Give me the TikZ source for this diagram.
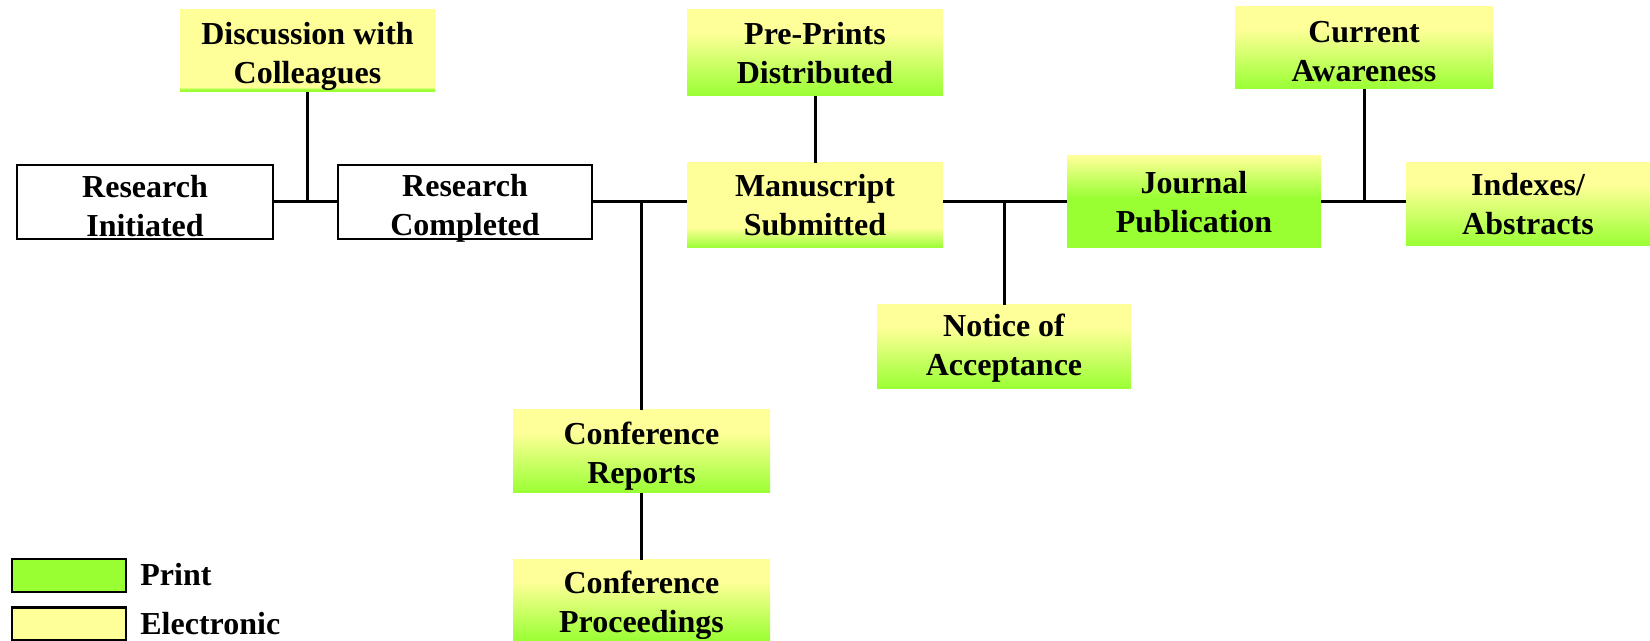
\documentclass[tikz,border=0pt]{standalone}
\usepackage{fontspec}
\setmainfont{Liberation Serif}
\definecolor{pg}{HTML}{99FF33}
\definecolor{ey}{HTML}{FFFF99}
\pgfdeclareverticalshading{shDC}{100bp}{color(0bp)=(pg); color(26.5bp)=(pg); color(28bp)=(ey); color(100bp)=(ey)}
\pgfdeclareverticalshading{shPP}{100bp}{color(0bp)=(pg); color(25bp)=(pg); color(62bp)=(ey); color(100bp)=(ey)}
\pgfdeclareverticalshading{shMS}{100bp}{color(0bp)=(pg); color(25bp)=(pg); color(37bp)=(ey); color(100bp)=(ey)}
\pgfdeclareverticalshading{shJP}{100bp}{color(0bp)=(pg); color(52bp)=(pg); color(75bp)=(ey); color(100bp)=(ey)}
\begin{document}
\begin{tikzpicture}[x=0.5pt,y=-0.5pt,
  lbl/.style={font=\fontsize{16}{19.5}\selectfont\bfseries, align=center, inner sep=0pt},
  plainbox/.style={draw=black, line width=1.3pt, fill=white, inner sep=0pt},
  gbox/.style={draw=none, shade, shading=#1, inner sep=0pt},
  conn/.style={line width=1.5pt, draw=black},
  legbox/.style={draw=black, line width=1.3pt, minimum width=57pt, minimum height=16.5pt, inner sep=0pt},
  legtext/.style={font=\fontsize{16}{19.5}\selectfont\bfseries, anchor=west, inner sep=0pt}]
\useasboundingbox (0,0) rectangle (1650,641);
% boxes
\node[plainbox, minimum width=128pt, minimum height=37pt,
  label={[lbl,yshift=-1.8pt]center:{Research\\Initiated}}] (RI) at (145,202) {};
\node[plainbox, minimum width=127pt, minimum height=37pt,
  label={[lbl,yshift=-3.2pt]center:{Research\\Completed}}] (RC) at (465,202) {};
\node[gbox=shDC, minimum width=127.5pt, minimum height=41pt,
  label={[lbl,yshift=-2.5pt]center:{Discussion with\\Colleagues}}] (DC) at (307.5,51) {};
\node[gbox=shPP, minimum width=128pt, minimum height=43pt,
  label={[lbl]center:{Pre-Prints\\Distributed}}] (PP) at (815,53) {};
\node[gbox=shMS, minimum width=128pt, minimum height=42.5pt,
  label={[lbl]center:{Manuscript\\Submitted}}] (MS) at (815,205.5) {};
\node[gbox=shJP, minimum width=127pt, minimum height=46pt,
  label={[lbl]center:{Journal\\Publication}}] (JP) at (1194,202) {};
\node[gbox=shPP, minimum width=129pt, minimum height=41pt,
  label={[lbl,yshift=-1.8pt]center:{Current\\Awareness}}] (CA) at (1364,48) {};
\node[gbox=shPP, minimum width=122pt, minimum height=41.5pt,
  label={[lbl]center:{Indexes/\\Abstracts}}] (IA) at (1528,204.5) {};
\node[gbox=shPP, minimum width=127pt, minimum height=42pt,
  label={[lbl,yshift=-0.8pt]center:{Notice of\\Acceptance}}] (NA) at (1004,347) {};
\node[gbox=shPP, minimum width=128.5pt, minimum height=41.5pt,
  label={[lbl,yshift=-2.4pt]center:{Conference\\Reports}}] (CR) at (641.5,451.5) {};
\node[gbox=shPP, minimum width=128.5pt, minimum height=40.5pt,
  label={[lbl,yshift=-2.4pt]center:{Conference\\Proceedings}}] (CP) at (641.5,600.5) {};
% connectors
\coordinate (j1) at (DC.south |- RI.east);
\coordinate (j2) at (CR.north |- RC.east);
\coordinate (j3) at (NA.north |- RC.east);
\coordinate (j4) at (CA.south |- JP.east);
\draw[conn] (RI.east) -- (RC.west);
\draw[conn] (DC.south) -- (j1);
\draw[conn] (RC.east) -- (RC.east -| MS.west);
\draw[conn] (j2) -- (CR.north);
\draw[conn] (CR.south) -- (CP.north);
\draw[conn] (PP.south) -- (MS.north);
\draw[conn] (RC.east -| MS.east) -- (RC.east -| JP.west);
\draw[conn] (j3) -- (NA.north);
\draw[conn] (JP.east) -- (JP.east -| IA.west);
\draw[conn] (CA.south) -- (j4);
% legend
\node[legbox, fill=pg] (LP) at (69,575.5) {};
\node[legbox, fill=ey] (LE) at (69,624) {};
\node[legtext] (LPt) at (140,575) {Print};
\node[legtext] (LEt) at (140,624) {Electronic};
\end{tikzpicture}
\end{document}
